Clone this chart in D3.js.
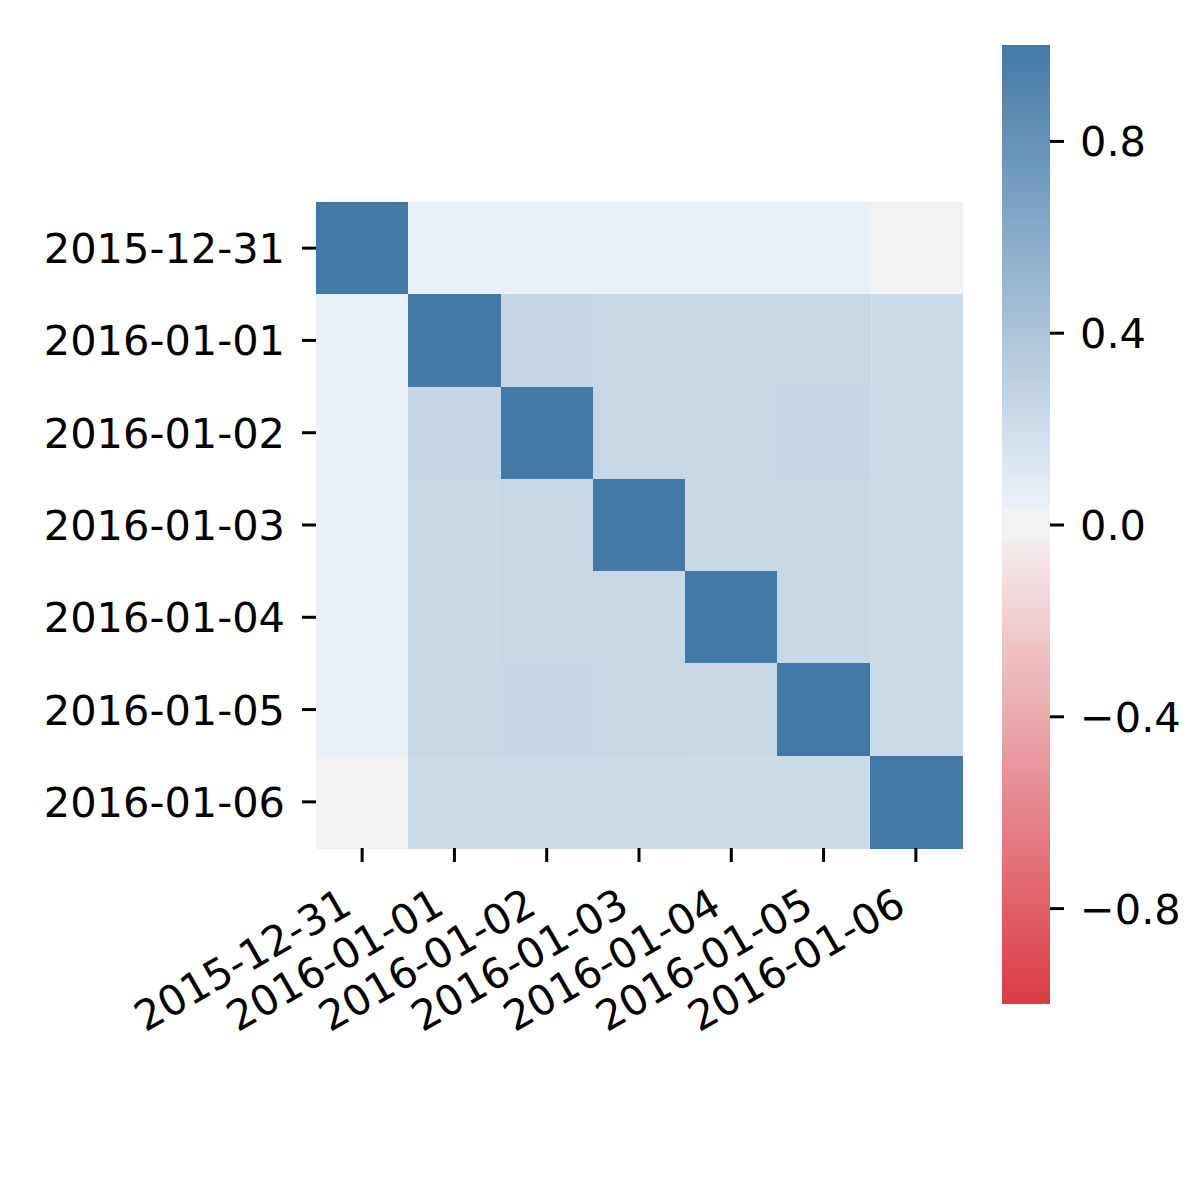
<!DOCTYPE html>
<head>
    <meta charset="utf-8">
    <title>Correlation heatmap</title>
    <script src="https://cdn.jsdelivr.net/npm/d3@7"></script>
    <style>
        body { margin: 0; background: #fff; }
        text { font-family: "DejaVu Sans", sans-serif; fill: #000; }
    </style>
</head>
<body>
<div id="chart"></div>
<script type="text/javascript">
    // dates used for both axes
    const dates = ['2015-12-31', '2016-01-01', '2016-01-02', '2016-01-03',
                   '2016-01-04', '2016-01-05', '2016-01-06'];

    // correlation matrix, one row per date
    const row0 = [1.00, 0.045, 0.045, 0.045, 0.045, 0.045, 0.01];
    const row1 = [0.045, 1.00, 0.25, 0.24, 0.24, 0.245, 0.21];
    const row2 = [0.045, 0.25, 1.00, 0.245, 0.245, 0.25, 0.22];
    const row3 = [0.045, 0.24, 0.245, 1.00, 0.24, 0.245, 0.22];
    const row4 = [0.045, 0.24, 0.245, 0.24, 1.00, 0.24, 0.21];
    const row5 = [0.045, 0.245, 0.25, 0.245, 0.24, 1.00, 0.215];
    const row6 = [0.01, 0.21, 0.22, 0.22, 0.21, 0.215, 1.00];
    const matrix = [row0, row1, row2, row3, row4, row5, row6];

    const cbarTicks = [-0.8, -0.4, 0.0, 0.4, 0.8];

    const width = 1200, height = 1200;
    const fontSize = 41.5;

    const svg = d3.select('#chart').append('svg')
        .attr('width', width)
        .attr('height', height);

    /// diverging palette: red -> light, flat grey centre, light -> blue
    const sep = 0.035;
    const color = d3.scaleLinear()
        .domain([-1, -sep, -sep, sep, sep, 1])
        .range(['#da3b46', '#f5eced', '#f2f2f2', '#f2f2f2', '#ecf1f8', '#4279a7'])
        .interpolate(d3.interpolateRgb)
        .clamp(true);

    /// heatmap
    const hmLeft = 316, hmTop = 202, hmSize = 646;
    const x = d3.scaleBand().domain(dates).range([hmLeft, hmLeft + hmSize]);
    const y = d3.scaleBand().domain(dates).range([hmTop, hmTop + hmSize]);

    const cells = [];
    matrix.forEach((row, i) => row.forEach((v, j) => cells.push({r: dates[i], c: dates[j], v: v})));

    svg.append('g').selectAll('rect')
        .data(cells)
        .join('rect')
        .attr('x', d => x(d.c))
        .attr('y', d => y(d.r))
        .attr('width', x.bandwidth() + 0.5)
        .attr('height', y.bandwidth() + 0.5)
        .attr('fill', d => color(d.v))
        .attr('shape-rendering', 'crispEdges');

    /// y axis
    const yAxis = svg.append('g')
        .attr('transform', `translate(${hmLeft}, 0)`)
        .call(d3.axisLeft(y).tickSize(14).tickPadding(17));
    yAxis.select('.domain').remove();
    yAxis.selectAll('.tick line').attr('stroke', '#000').attr('stroke-width', 3);
    yAxis.selectAll('.tick text')
        .style('font-size', fontSize + 'px')
        .attr('dy', '0.36em');

    /// x axis, labels rotated 30 degrees
    const xAxis = svg.append('g')
        .attr('transform', `translate(0, ${hmTop + hmSize})`)
        .call(d3.axisBottom(x).tickSize(14));
    xAxis.select('.domain').remove();
    xAxis.selectAll('.tick line').attr('stroke', '#000').attr('stroke-width', 3);
    xAxis.selectAll('.tick text')
        .style('font-size', fontSize + 'px')
        .attr('text-anchor', 'end')
        .attr('dy', null)
        .attr('y', null)
        .attr('transform', 'translate(-8, 64) rotate(-30)');

    /// colorbar
    const cbX = 1002, cbW = 48, cbTop = 45, cbBottom = 1004;
    const cb = d3.scaleLinear().domain([-1, 1]).range([cbBottom, cbTop]);

    const stops = d3.range(0, 257).map(k => -1 + 2 * k / 256);
    // sharp edges of the grey centre band
    stops.push(-sep - 1e-4, -sep + 1e-4, sep - 1e-4, sep + 1e-4);
    stops.sort((a, b) => a - b);

    svg.append('defs').append('linearGradient')
        .attr('id', 'cbar')
        .attr('x1', 0).attr('y1', 1).attr('x2', 0).attr('y2', 0)
        .selectAll('stop')
        .data(stops)
        .join('stop')
        .attr('offset', v => ((v + 1) / 2 * 100) + '%')
        .attr('stop-color', v => color(v));

    svg.append('rect')
        .attr('x', cbX)
        .attr('y', cbTop)
        .attr('width', cbW)
        .attr('height', cbBottom - cbTop)
        .attr('fill', 'url(#cbar)');

    const cbAxis = svg.append('g')
        .attr('transform', `translate(${cbX + cbW}, 0)`)
        .call(d3.axisRight(cb).tickValues(cbarTicks).tickSize(14).tickPadding(16)
            .tickFormat(d => d3.format('.1f')(d).replace('-', '\u2212')));
    cbAxis.select('.domain').remove();
    cbAxis.selectAll('.tick line').attr('stroke', '#000').attr('stroke-width', 3);
    cbAxis.selectAll('.tick text')
        .style('font-size', fontSize + 'px')
        .attr('dy', '0.36em');
</script>
</body>
